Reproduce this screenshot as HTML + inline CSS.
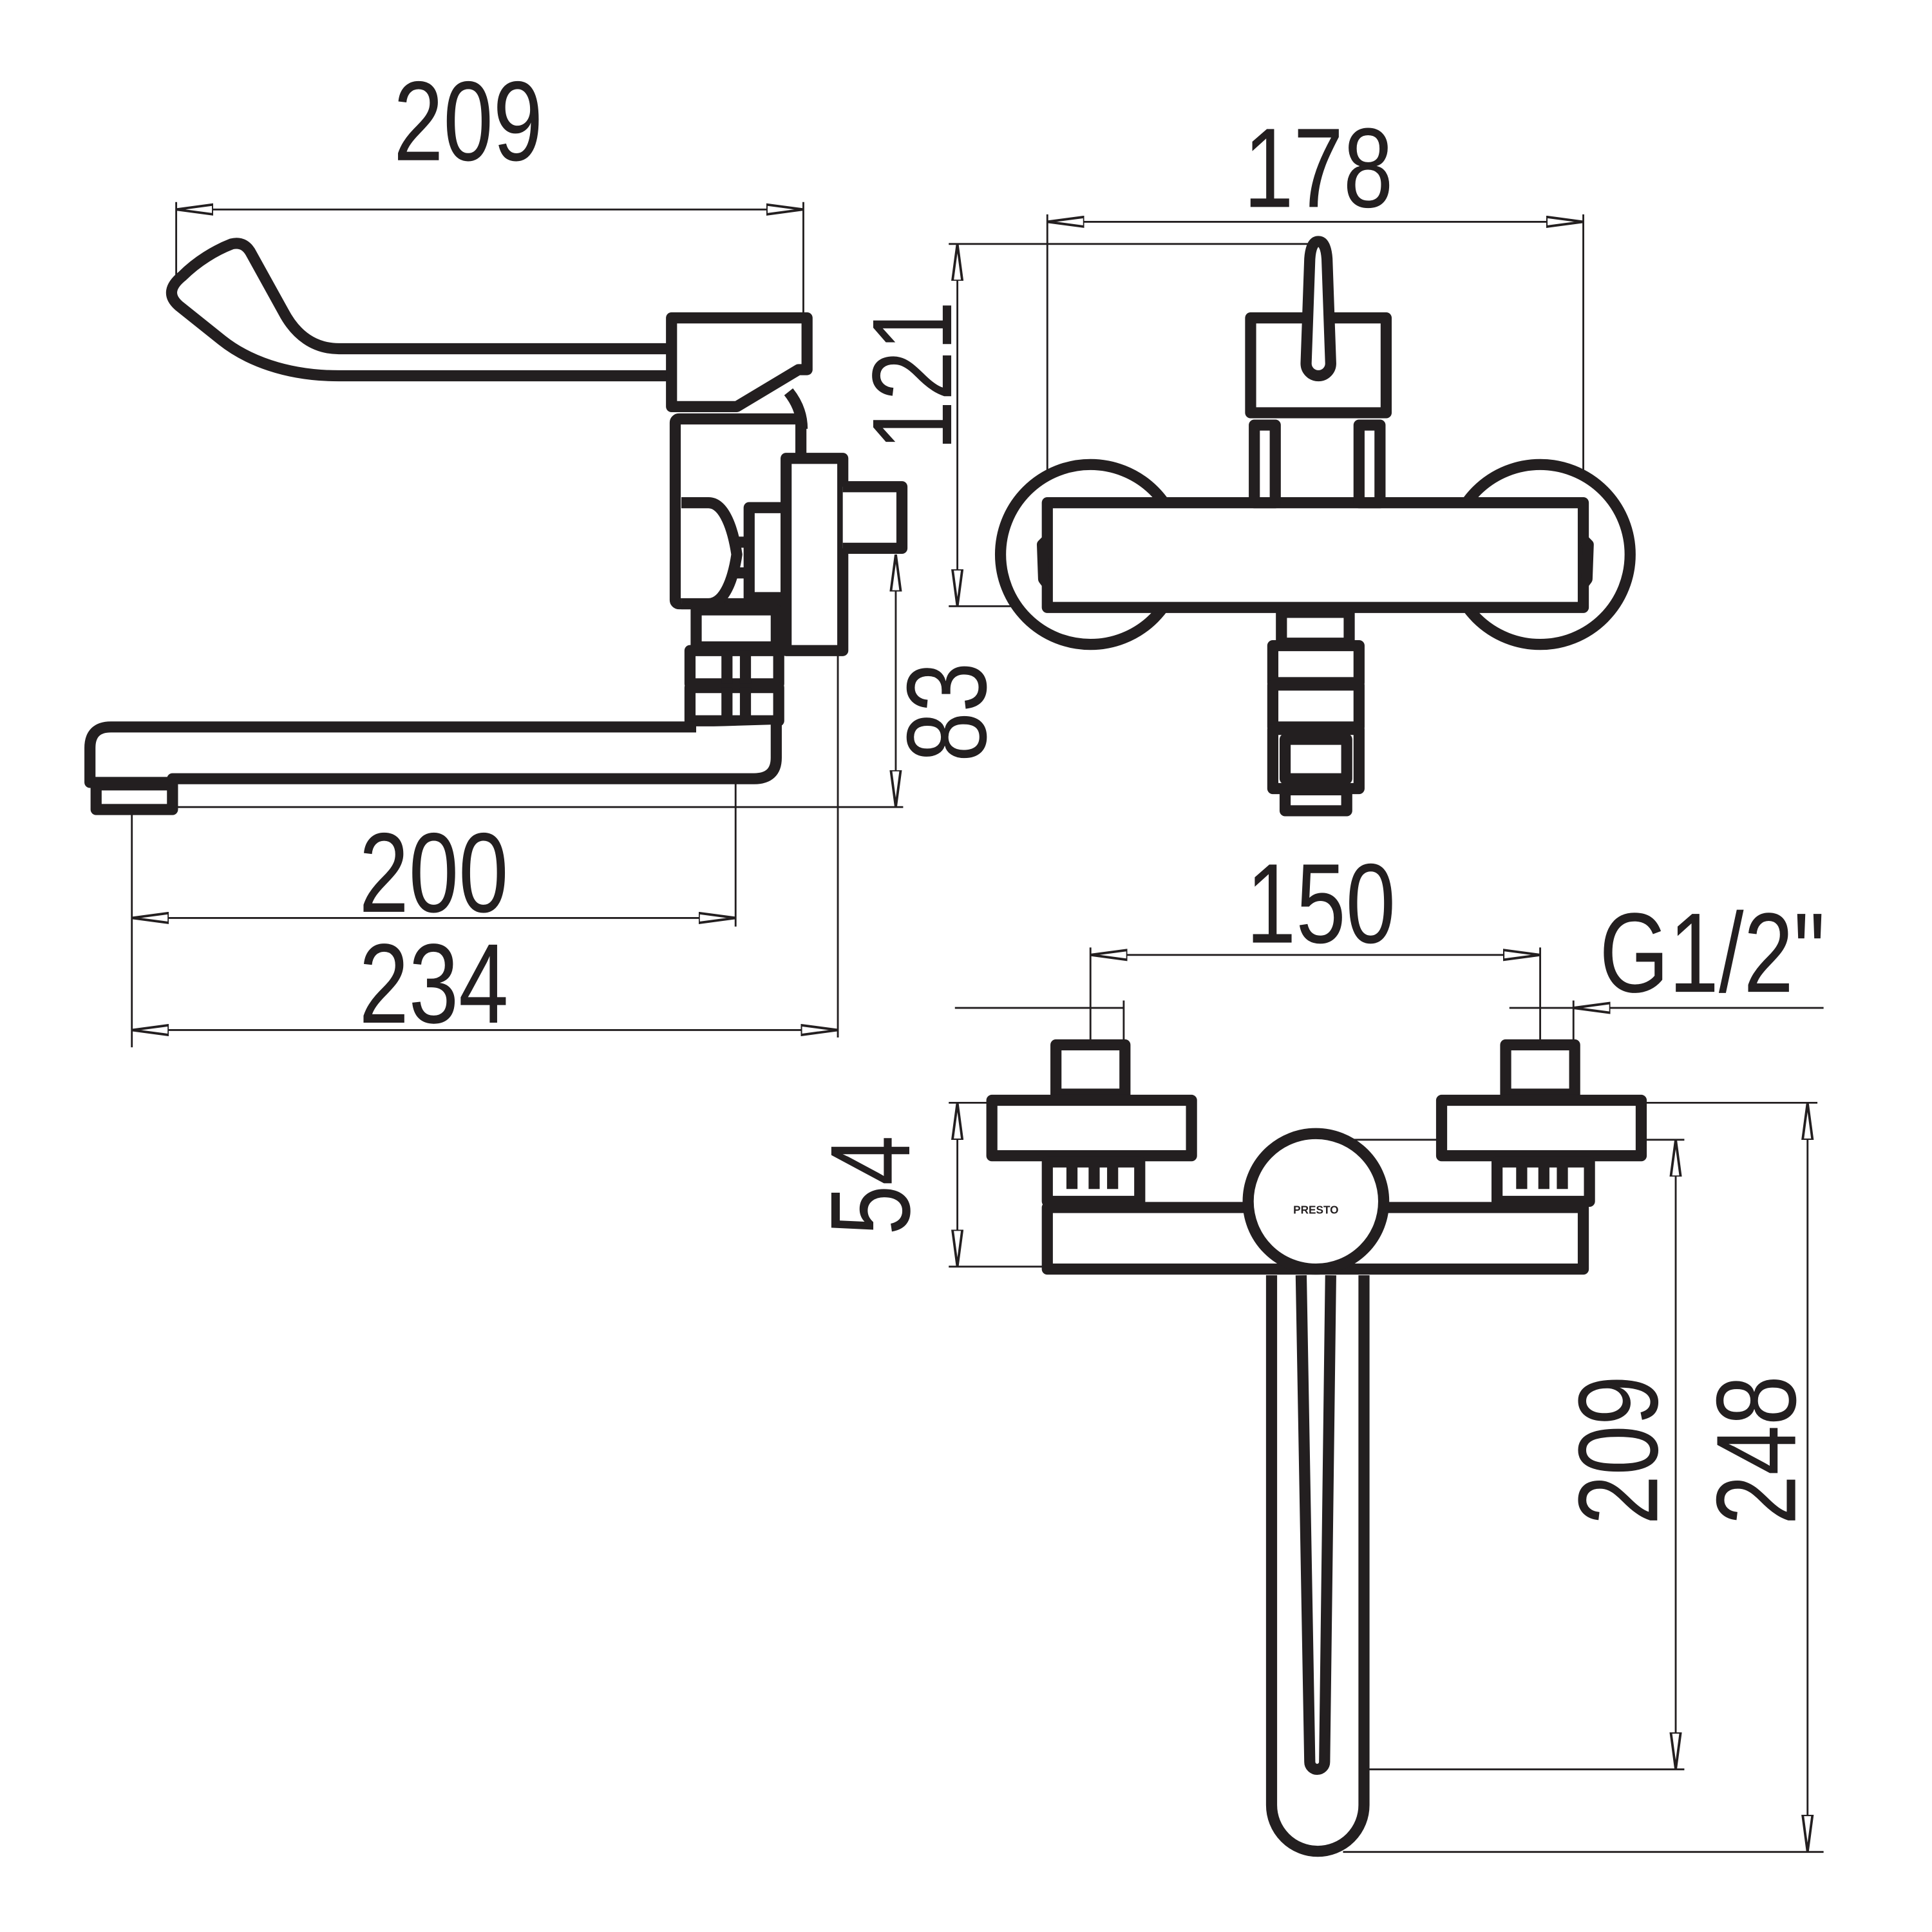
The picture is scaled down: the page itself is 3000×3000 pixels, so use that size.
<!DOCTYPE html>
<html><head><meta charset="utf-8"><style>
html,body{margin:0;padding:0;background:#fff}
svg{display:block}
text{font-family:"Liberation Sans",sans-serif;fill:#231f20}
</style></head><body>
<svg width="3000" height="3000" viewBox="0 0 1568 1568" xmlns="http://www.w3.org/2000/svg">
<defs>
<marker id="a" viewBox="0 0 30 10" refX="30" refY="5" markerWidth="30" markerHeight="10" markerUnits="userSpaceOnUse" orient="auto-start-reverse">
<path d="M0,1 L30,5 L0,9 Z" fill="#fff" stroke="#231f20" stroke-width="2"/>
</marker>
</defs>
<g fill="none" stroke="#231f20" stroke-width="1.5">
<line x1="143" y1="170" x2="652" y2="170" marker-start="url(#a)" marker-end="url(#a)"/>
<line x1="143" y1="164" x2="143" y2="228"/>
<line x1="652" y1="164" x2="652" y2="256"/>
<line x1="727" y1="450" x2="727" y2="655" marker-start="url(#a)" marker-end="url(#a)"/>
<line x1="107" y1="655" x2="733" y2="655"/>
<line x1="107" y1="745" x2="597" y2="745" marker-start="url(#a)" marker-end="url(#a)"/>
<line x1="107" y1="660" x2="107" y2="850"/>
<line x1="597" y1="530" x2="597" y2="752"/>
<line x1="107" y1="836" x2="680" y2="836" marker-start="url(#a)" marker-end="url(#a)"/>
<line x1="680" y1="530" x2="680" y2="842"/>
<line x1="850" y1="180" x2="1285" y2="180" marker-start="url(#a)" marker-end="url(#a)"/>
<line x1="850" y1="174" x2="850" y2="410"/>
<line x1="1285" y1="174" x2="1285" y2="410"/>
<line x1="777" y1="198" x2="777" y2="492" marker-start="url(#a)" marker-end="url(#a)"/>
<line x1="770" y1="198" x2="1068" y2="198"/>
<line x1="770" y1="492" x2="850" y2="492"/>
<line x1="885" y1="775" x2="1250" y2="775" marker-start="url(#a)" marker-end="url(#a)"/>
<line x1="885" y1="769" x2="885" y2="845"/>
<line x1="912" y1="812" x2="912" y2="845"/>
<line x1="1250" y1="769" x2="1250" y2="845"/>
<line x1="1277" y1="812" x2="1277" y2="845"/>
<line x1="775" y1="818" x2="912" y2="818"/>
<line x1="1225" y1="818" x2="1277" y2="818"/>
<line x1="1480" y1="818" x2="1277" y2="818" marker-end="url(#a)"/>
<line x1="777" y1="895" x2="777" y2="1028" marker-start="url(#a)" marker-end="url(#a)"/>
<line x1="770" y1="895" x2="805" y2="895"/>
<line x1="770" y1="1028" x2="850" y2="1028"/>
<line x1="1360" y1="925" x2="1360" y2="1436" marker-start="url(#a)" marker-end="url(#a)"/>
<line x1="1090" y1="925" x2="1367" y2="925"/>
<line x1="1075" y1="1436" x2="1367" y2="1436"/>
<line x1="1467" y1="895" x2="1467" y2="1503" marker-start="url(#a)" marker-end="url(#a)"/>
<line x1="1335" y1="895" x2="1475" y2="895"/>
<line x1="1090" y1="1503" x2="1480" y2="1503"/>
</g>

<g fill="#fff" stroke="#231f20" stroke-width="9" stroke-linejoin="round">
<path d="M545,305 L275,305 C232,305 200,292 180,276 L145,248 C136,240 138,232 148,224 C160,212 175,203 188,198 C196,196 201,200 204,206 L230,253 C240,272 255,283 275,283 L545,283"/>
<path d="M545,258 L655,258 L655,300 L648,300 L598,330 L545,330 Z"/>
<path d="M640,318 C648,328 651,338 651,348" fill="none"/>
<rect x="548" y="340" width="102" height="150" rx="3"/>
<path d="M553,408 L575,408 C588,408 595,430 598,450 C595,470 588,490 575,490 L553,490"/>
<rect x="608" y="412" width="30" height="73"/>
<path d="M598,440 L608,440 M598,465 L608,465" fill="none"/>
<rect x="565" y="495" width="65" height="30"/>
<rect x="560" y="528" width="72" height="27"/>
<rect x="560" y="558" width="72" height="27"/>
<path d="M590,528 L590,555 M605,528 L605,555 M590,558 L590,585 M605,558 L605,585" fill="none"/>
<rect x="638" y="372" width="46" height="156"/>
<path d="M684,395 L732,395 L732,445 L684,445"/>
<path d="M565,590 L90,590 Q73,590 73,607 L73,635 L140,635 L140,632 L612,632 Q630,632 630,615 L630,588"/>
<rect x="78" y="637" width="62" height="20"/>

<circle cx="885" cy="450" r="73"/>
<circle cx="1250" cy="450" r="73"/>
<rect x="850" y="408" width="435" height="85"/>
<path d="M850,438 L846,442 L847,470 L850,474 M1285,438 L1289,442 L1288,470 L1285,474" fill="none"/>
<rect x="1018" y="345" width="17" height="63"/>
<rect x="1103" y="345" width="17" height="63"/>
<rect x="1015" y="258" width="110" height="77"/>
<path d="M1070,196 Q1076,196 1077,210 L1080,295 A10,10 0 1 1 1060,295 L1063,210 Q1064,196 1070,196 Z"/>
<rect x="1040" y="497" width="55" height="25"/>
<rect x="1033" y="524" width="70" height="30"/>
<rect x="1033" y="556" width="70" height="34"/>
<path d="M1033,592 L1103,592 L1103,640 L1033,640 Z M1043,600 L1093,600 L1093,632 L1043,632 Z"/>
<rect x="1043" y="641" width="50" height="17"/>

<rect x="857" y="848" width="56" height="40"/>
<rect x="1222" y="848" width="56" height="40"/>
<rect x="805" y="893" width="162" height="45"/>
<rect x="1170" y="893" width="162" height="45"/>
<rect x="850" y="943" width="75" height="32"/>
<rect x="1215" y="943" width="75" height="32"/>
<path d="M870,945 L870,965 M888,945 L888,965 M903,945 L903,965 M1235,945 L1235,965 M1253,945 L1253,965 M1268,945 L1268,965" fill="none"/>
<rect x="850" y="980" width="435" height="50"/>
<path d="M1032,1035 L1032,1465 A37,37 0 0 0 1107,1465 L1107,1035"/>
<path d="M1056,1035 L1063,1430 A6,6 0 0 0 1075,1430 L1080,1035" fill="none"/>
<circle cx="1068" cy="975" r="55"/>
</g>
<text x="1068" y="985" font-size="9" text-anchor="middle" font-weight="bold">PRESTO</text>

<g font-size="92">
<text transform="translate(380,130) scale(0.79,1)" text-anchor="middle">209</text>
<text transform="translate(1070,168) scale(0.79,1)" text-anchor="middle">178</text>
<text transform="translate(352,740) scale(0.79,1)" text-anchor="middle">200</text>
<text transform="translate(352,830) scale(0.79,1)" text-anchor="middle">234</text>
<text transform="translate(1072,765) scale(0.79,1)" text-anchor="middle">150</text>
<text transform="translate(1298,805) scale(0.79,1)">G1/2"</text>
<text transform="translate(772,305) rotate(-90) scale(0.79,1)" text-anchor="middle">121</text>
<text transform="translate(800,578) rotate(-90) scale(0.79,1)" text-anchor="middle">83</text>
<text transform="translate(738,962) rotate(-90) scale(0.79,1)" text-anchor="middle">54</text>
<text transform="translate(1345,1177) rotate(-90) scale(0.79,1)" text-anchor="middle">209</text>
<text transform="translate(1457,1177) rotate(-90) scale(0.79,1)" text-anchor="middle">248</text>
</g>
</svg>
</body></html>
